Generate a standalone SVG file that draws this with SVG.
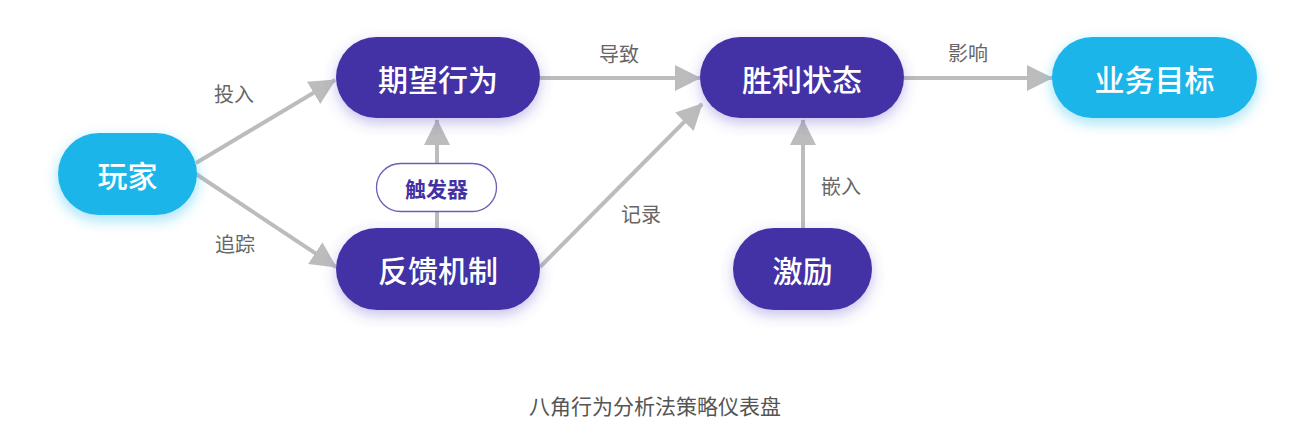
<svg xmlns="http://www.w3.org/2000/svg" width="1316" height="444" viewBox="0 0 1316 444">
  <defs>
    <filter id="shPurple" x="-30%" y="-40%" width="160%" height="190%">
      <feDropShadow dx="0" dy="5" stdDeviation="7" flood-color="#5a48c8" flood-opacity="0.35"/>
    </filter>
    <filter id="shCyan" x="-30%" y="-40%" width="160%" height="190%">
      <feDropShadow dx="0" dy="5" stdDeviation="7" flood-color="#1ab5ea" flood-opacity="0.4"/>
    </filter>
    <marker id="arr" markerUnits="userSpaceOnUse" markerWidth="26" markerHeight="26" viewBox="0 0 26 26" refX="25" refY="13" orient="auto">
      <path d="M0,0 L26,13 L0,26 z" fill="#bcbcbc"/>
    </marker>
    <style>
      .purple { fill: #4232a6; }
      .cyan { fill: #1bb5ea; }
      .ntext { font-family: "Noto Sans CJK SC", "Noto Sans", sans-serif; font-size: 30px; font-weight: 500; fill: #ffffff; text-anchor: middle; dominant-baseline: central; }
      .lbl { font-family: "Noto Sans CJK SC", "Noto Sans", sans-serif; font-size: 20px; fill: #666666; text-anchor: middle; dominant-baseline: central; }
      .edge { stroke: #bcbcbc; stroke-width: 4; fill: none; marker-end: url(#arr); }
    </style>
  </defs>
  <rect width="1316" height="444" fill="#ffffff"/>

  <g id="connectors">
    <line class="edge" x1="196" y1="163" x2="335" y2="80"/>
    <line class="edge" x1="196" y1="174" x2="336" y2="267"/>
    <line class="edge" x1="437" y1="228" x2="437" y2="120"/>
    <line class="edge" x1="540" y1="78" x2="700" y2="78"/>
    <line class="edge" x1="540" y1="267" x2="702" y2="104"/>
    <line class="edge" x1="904" y1="78" x2="1052" y2="78"/>
    <line class="edge" x1="803" y1="228" x2="803" y2="120"/>
    <text class="lbl" x="234" y="93">投入</text>
    <text class="lbl" x="235" y="243">追踪</text>
    <text class="lbl" x="619" y="53">导致</text>
    <text class="lbl" x="641" y="213">记录</text>
    <text class="lbl" x="968" y="52">影响</text>
    <text class="lbl" x="841" y="185">嵌入</text>
  </g>

  <g id="node-player">
    <rect class="cyan" filter="url(#shCyan)" x="58" y="133" width="139" height="82" rx="41"/>
    <text class="ntext" x="127.5" y="174">玩家</text>
  </g>
  <g id="node-expected">
    <rect class="purple" filter="url(#shPurple)" x="336" y="37" width="204" height="81" rx="40.5"/>
    <text class="ntext" x="438" y="77.5">期望行为</text>
  </g>
  <g id="node-feedback">
    <rect class="purple" filter="url(#shPurple)" x="336" y="228" width="204" height="82" rx="41"/>
    <text class="ntext" x="438" y="269">反馈机制</text>
  </g>
  <g id="node-trigger">
    <rect x="376.5" y="163.5" width="120" height="48" rx="24" fill="#ffffff" stroke="#6a5fb8" stroke-width="1.3"/>
    <text x="436.5" y="187.5" font-family="Noto Sans CJK SC, Noto Sans, sans-serif" font-size="21" font-weight="700" fill="#4232a6" text-anchor="middle" dominant-baseline="central">触发器</text>
  </g>
  <g id="node-win">
    <rect class="purple" filter="url(#shPurple)" x="700" y="37" width="204" height="81" rx="40.5"/>
    <text class="ntext" x="802" y="77.5">胜利状态</text>
  </g>
  <g id="node-business">
    <rect class="cyan" filter="url(#shCyan)" x="1052" y="37" width="205" height="81" rx="40.5"/>
    <text class="ntext" x="1154.5" y="77.5">业务目标</text>
  </g>
  <g id="node-incentive">
    <rect class="purple" filter="url(#shPurple)" x="733" y="228" width="139" height="82" rx="41"/>
    <text class="ntext" x="802.5" y="269">激励</text>
  </g>

  <text x="655" y="405" font-family="Noto Sans CJK SC, Noto Sans, sans-serif" font-size="21" fill="#555555" text-anchor="middle" dominant-baseline="central">八角行为分析法策略仪表盘</text>
</svg>
